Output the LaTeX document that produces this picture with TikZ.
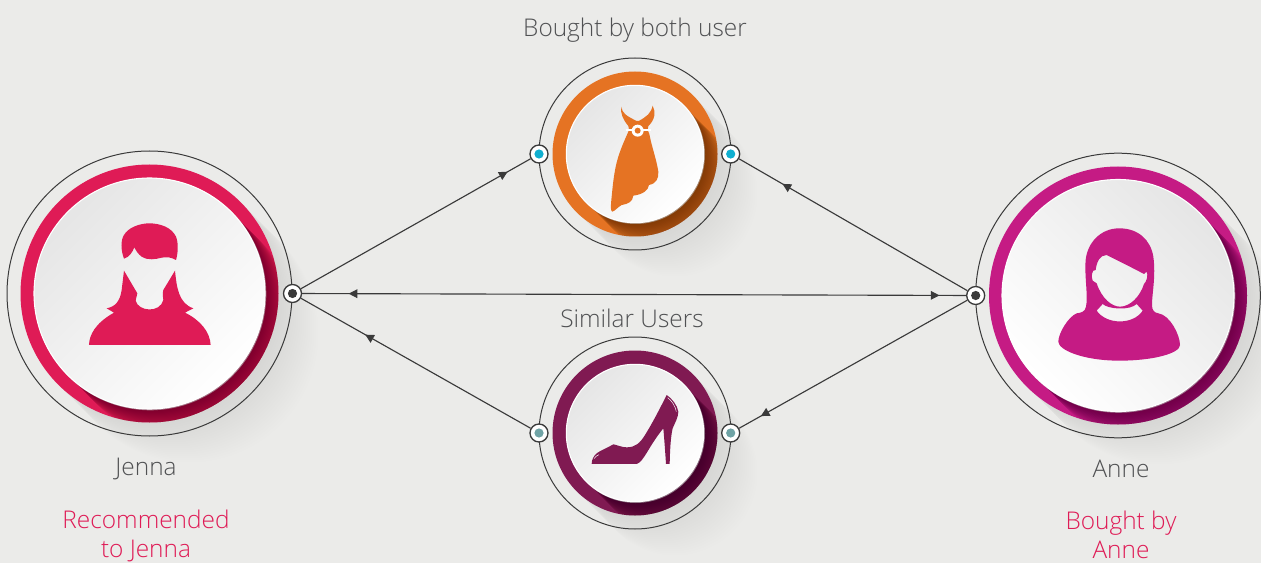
\documentclass[tikz,border=0pt]{standalone}
\usepackage{fontspec}
\setmainfont{Open Sans}[UprightFont=* Light]
\usetikzlibrary{arrows.meta,decorations.markings}

\definecolor{paper}{RGB}{235,235,233}
\definecolor{ink}{RGB}{58,58,58}
\definecolor{labelgrey}{RGB}{80,81,83}
\definecolor{jennared}{RGB}{223,27,86}
\definecolor{dressorange}{RGB}{229,115,35}
\definecolor{shoeplum}{RGB}{128,26,82}
\definecolor{annepink}{RGB}{197,27,132}
\definecolor{portcyan}{RGB}{15,175,208}
\definecolor{portteal}{RGB}{111,163,165}

\tikzset{every picture/.style={line width=0.75pt}}
\tikzset{
  portnode/.style={circle,draw=ink,fill=white,line width=1,minimum size=13.5pt,inner sep=0pt,
    path picture={\fill [#1] (path picture bounding box.center) circle [radius=4.6];}},
  linkline/.style={draw=ink,line width=0.85},
  arrowat/.style={postaction={decorate},decoration={markings,
    mark=at position #1 with {\arrow{Triangle[length=6.5pt,width=6.5pt]}}}},
  labeltext/.style={text=labelgrey,font=\fontsize{18.3}{23}\selectfont,align=center,inner sep=0pt},
  notetext/.style={labeltext,text=jennared,font=\fontsize{18.3}{21.8}\selectfont}
}

% badge: centre x, centre y, colour, outer r, ring r, white r, shading angle
\newcommand{\badge}[7]{
\begin{scope}[shift={(#1,#2)}]
  \foreach \d in {2,4,...,40} {\fill [black,opacity=0.005] (\d,\d) circle [radius=#5];}
  \draw [ink] (0,0) circle [radius=#4];
  \fill [#3] (0,0) circle [radius=#5];
  \begin{scope}
    \clip (0,0) circle [radius=#5];
    \foreach \d in {1,2,...,30} {\fill [black,opacity=0.016] (\d,\d) circle [radius=#6];}
  \end{scope}
  \fill [black!25,opacity=0.6] (0.7,0.7) circle [radius=#6+0.6];
  \shade [top color=black!10,middle color=white,bottom color=white,shading angle=#7] (0,0) circle [radius=#6];
  \draw [white,line width=0.8] (0,0) circle [radius=#6];
\end{scope}
}

\begin{document}
\begin{tikzpicture}[x=0.75pt,y=0.75pt,yscale=-1]
\useasboundingbox (0,0) rectangle (1261,563);
\fill [paper] (0,0) rectangle (1261,563);

%Badges
\badge{149.5}{293.5}{jennared}{142.5}{129}{115.5}{45}
\badge{635}{154}{dressorange}{96}{82.5}{68.7}{45}
\badge{635}{433}{shoeplum}{96}{82.5}{68.7}{45}
\badge{1118}{295.5}{annepink}{142.3}{129}{116}{-45}

%Jenna icon
\begin{scope}[shift={(0,140)},scale=1/3]
\fill [jennared] (372,356) .. controls (362,330) and (362,300) .. (372,285) .. controls (385,262) and (420,250) .. (448,250) .. controls (480,250) and (515,262) .. (528,290) .. controls (536,310) and (534,340) .. (528,360) .. controls (515,352) and (500,350) .. (485,353) .. controls (465,358) and (445,362) .. (425,350) .. controls (415,343) and (408,332) .. (403,322) .. controls (398,335) and (388,352) .. (372,356) -- cycle;
\fill [jennared] (267,615) .. controls (268,585) and (285,550) .. (342,518) -- (320,505) .. controls (345,500) and (360,485) .. (365,450) -- (372,392) -- (412,460) .. controls (412,470) and (406,475) .. (407,482) .. controls (415,515) and (480,520) .. (490,480) .. controls (490,470) and (486,465) .. (490,450) -- (525,392) .. controls (530,440) and (535,490) .. (580,505) -- (555,518) .. controls (600,540) and (630,575) .. (632,615) -- cycle;
\end{scope}

%Dress icon
\begin{scope}[shift={(520,50)},scale=1/3]
\fill [dressorange] (304,170) .. controls (306,190) and (320,198) .. (350,213) -- (356,213) .. controls (380,200) and (393,190) .. (398,167) .. controls (408,185) and (405,210) .. (385,228) -- (383,240) -- (388,252) .. controls (395,290) and (410,330) .. (415,365) .. controls (416,385) and (410,400) .. (387,405) .. controls (385,420) and (370,433) .. (340,437) .. controls (338,455) and (325,462) .. (305,465) .. controls (295,470) and (285,483) .. (277,485) .. controls (272,485) and (272,470) .. (274,450) .. controls (278,410) and (282,360) .. (295,320) .. controls (303,295) and (313,272) .. (322,252) -- (327,240) -- (325,228) .. controls (310,210) and (300,190) .. (304,170) -- cycle;
\draw [white,line width=1.6] (318,241) -- (392,241);
\fill [white] (353,242) circle [radius=18];
\fill [dressorange] (353,242) circle [radius=9];
\end{scope}

%Shoe icon
\begin{scope}[shift={(520,330)},scale=1/3]
\fill [shoeplum] (215,402) -- (350,402) .. controls (372,395) and (385,350) .. (430,295) .. controls (433,330) and (436,370) .. (438,402) -- (449,402) .. controls (450,360) and (452,320) .. (458,295) .. controls (464,280) and (475,262) .. (475,245) .. controls (472,225) and (455,205) .. (440,195) .. controls (425,225) and (400,275) .. (375,315) .. controls (360,340) and (345,352) .. (320,352) .. controls (305,352) and (292,345) .. (280,343) .. controls (265,352) and (240,362) .. (230,370) .. controls (222,377) and (215,388) .. (215,402) -- cycle;
\draw [white,line width=0.35] (443,203) .. controls (455,212) and (466,228) .. (469,245);
\draw [white,line width=0.35] (222,386) .. controls (226,380) and (231,376) .. (237,374);
\end{scope}

%Anne icon
\begin{scope}[shift={(950,150)},scale=1/3]
\fill [annepink,even odd rule] (508,235) .. controls (450,235) and (412,280) .. (407,330) .. controls (403,380) and (415,440) .. (408,470) .. controls (405,485) and (395,488) .. (380,490) .. controls (355,500) and (325,550) .. (325,575) .. controls (325,600) and (400,632) .. (508,632) .. controls (610,632) and (690,610) .. (690,585) .. controls (690,555) and (660,495) .. (625,490) .. controls (612,488) and (606,480) .. (606,465) .. controls (606,430) and (618,380) .. (610,320) .. controls (602,270) and (565,235) .. (508,235) -- cycle
(470,315) .. controls (450,315) and (440,335) .. (437,360) .. controls (425,358) and (423,380) .. (428,392) -- (440,400) .. controls (455,445) and (485,470) .. (510,470) .. controls (540,470) and (570,440) .. (582,402) .. controls (590,395) and (595,375) .. (590,365) -- (582,372) .. controls (550,355) and (510,335) .. (470,315) -- cycle
(458,462) .. controls (475,478) and (540,482) .. (560,462) -- (578,482) .. controls (550,525) and (470,525) .. (440,482) -- cycle;
\end{scope}

% Ports
\draw (292.5,293.5) node (jennaport) [portnode=ink] {};
\draw (975.7,295.5) node (anneport) [portnode=ink] {};
\draw (539,154) node (dressleft) [portnode=portcyan] {};
\draw (730.7,154) node (dressright) [portnode=portcyan] {};
\draw (539,433) node (shoeleft) [portnode=portteal] {};
\draw (730.7,433) node (shoeright) [portnode=portteal] {};

%Straight Lines
\draw [linkline,arrowat=0.90] (jennaport) -- (dressleft);
\draw [linkline,arrowat=0.81] (anneport) -- (dressright);
\draw [linkline,arrowat=0.905] (anneport) -- (shoeright);
\draw [linkline,arrowat=0.72] (shoeleft) -- (jennaport);
\draw [linkline,postaction={decorate},decoration={markings,
  mark=at position 0.07 with {\arrowreversed{Triangle[length=6.5pt,width=6.5pt]}},
  mark=at position 0.96 with {\arrow{Triangle[length=6.5pt,width=6.5pt]}}}] (jennaport) -- (anneport);

% Text Node
\draw (635,30) node (bothlabel) [labeltext] {Bought by both user};
% Text Node
\draw (632,318) node (similarlabel) [labeltext] {Similar Users};
% Text Node
\draw (146,469) node (jennalabel) [labeltext] {Jenna};
% Text Node
\draw (1121,469) node (annelabel) [labeltext] {Anne};
% Text Node
\draw (146,535.5) node (jennanote) [notetext] {Recommended\\to Jenna};
% Text Node
\draw (1121,534.5) node (annenote) [notetext] {Bought by\\Anne};

\end{tikzpicture}
\end{document}
